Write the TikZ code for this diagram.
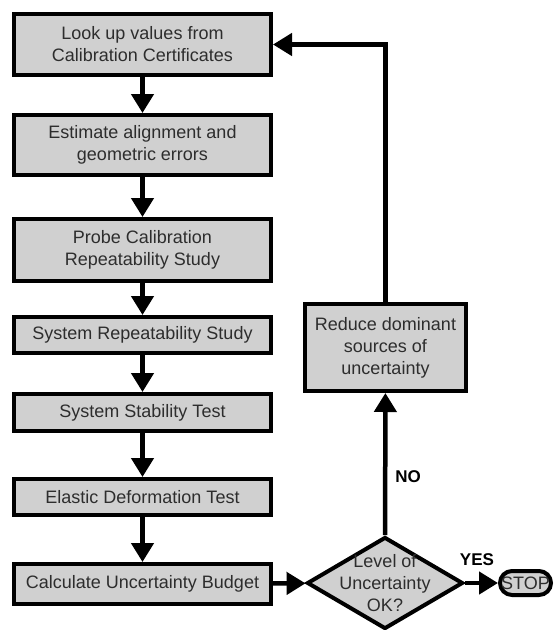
\documentclass[tikz,border=0pt]{standalone}
\usepackage{fontspec}
\setmainfont{Liberation Sans}
\usetikzlibrary{arrows.meta,shapes.geometric}
\definecolor{boxgray}{RGB}{208,208,208}
\definecolor{ink}{RGB}{45,45,45}
\begin{document}
\begin{tikzpicture}[x=1pt, y=-1pt,
    every node/.style={font=\fontsize{18}{22}\selectfont, text=ink, align=center, inner sep=0pt},
    stage/.style={draw, line width=4pt, fill=boxgray, minimum width=257pt},
    decision/.style={draw, diamond, line width=4pt, fill=boxgray, minimum width=156pt, minimum height=92pt},
    flow/.style={line width=4.5pt, -{Triangle[length=19pt,width=22pt]}},
    answer/.style={font=\fontsize{17}{20}\selectfont\bfseries, text=black}]
    \useasboundingbox (0,0) rectangle (554,630);
    \node[stage, minimum height=61pt] (lookup) at (142.5,44.5) {Look up values from\\Calibration Certificates};
    \node[stage, minimum height=60pt] (align) at (142.5,145) {Estimate alignment and\\geometric errors};
    \node[stage, minimum height=62pt] (probe) at (142.5,250) {Probe Calibration\\Repeatability Study};
    \node[stage, minimum height=36pt] (repeat) at (142.5,335) {System Repeatability Study};
    \node[stage, minimum height=37pt] (stable) at (142.5,412.5) {System Stability Test};
    \node[stage, minimum height=36pt] (elastic) at (142.5,497) {Elastic Deformation Test};
    \node[stage, minimum height=40pt] (budget) at (142.5,584) {Calculate Uncertainty Budget};
    \node[stage, minimum width=161pt, minimum height=87pt] (reduce) at (385.5,347.5) {Reduce dominant\\sources of\\uncertainty};
    \node[decision] (check) at (385,583) {};
    \node (checktxt) at (check) {Level of\\Uncertainty\\OK?};
    \node[draw, line width=4pt, fill=boxgray, rounded corners=12pt, minimum width=51pt, minimum height=24pt] (stop) at (525.5,583) {STOP};
    \draw[flow] (lookup) -- (align);
    \draw[flow] (align) -- (probe);
    \draw[flow] (probe) -- (repeat);
    \draw[flow] (repeat) -- (stable);
    \draw[flow] (stable) -- (elastic);
    \draw[flow] (elastic) -- (budget);
    \draw[flow] (budget) -- (check);
    \draw[flow] (check) -- (stop);
    \draw[flow] (check) -- (reduce);
    \draw[flow] (reduce.north) |- (lookup.east);
    \node[answer] (yes) at (477,560) {YES};
    \node[answer] (no) at (408,477) {NO};
\end{tikzpicture}
\end{document}
